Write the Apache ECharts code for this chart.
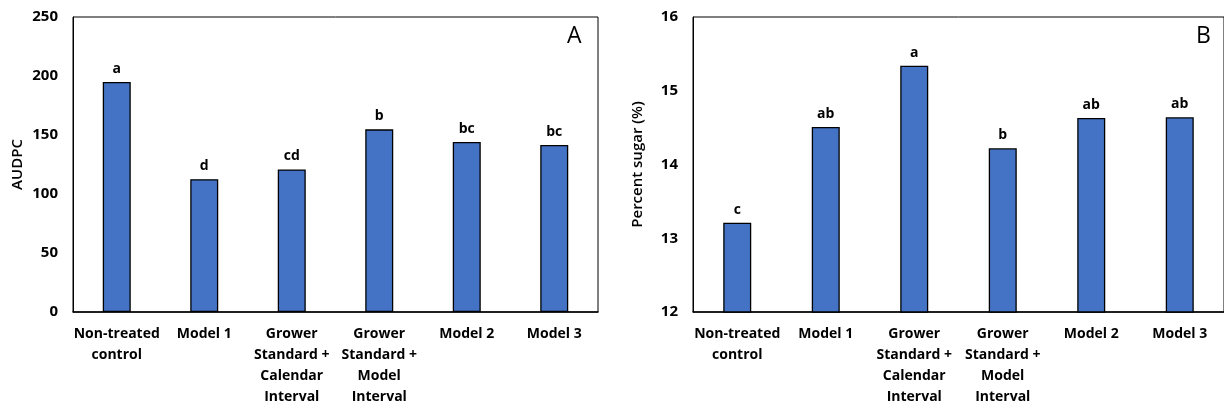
<!DOCTYPE html>
<html>
<head>
<meta charset="utf-8">
<script src="https://cdn.jsdelivr.net/npm/echarts@6/dist/echarts.min.js"></script>
<style>html,body{margin:0;padding:0;background:#fff;}#c{width:1224px;height:408px;}</style>
</head>
<body>
<div id="c"></div>
<script>
const categories = ['Non-treated\ncontrol', 'Model 1', 'Grower\nStandard +\nCalendar\nInterval', 'Grower\nStandard +\nModel\nInterval', 'Model 2', 'Model 3'];
const audpcValues = [195, 112.6, 120.8, 154.8, 144.1, 141.6];
const audpcLetters = ['a', 'd', 'cd', 'b', 'bc', 'bc'];
const sugarValues = [13.21, 14.51, 15.34, 14.22, 14.63, 14.64];
const sugarLetters = ['c', 'ab', 'a', 'b', 'ab', 'ab'];
const audpcTicks = { min: 0, max: 250, interval: 50 };
const sugarTicks = { min: 12, max: 16, interval: 1 };

const FONT = '"Open Sans", Lato, sans-serif';
const BAR = '#4472C4';

function xAxis(gi) {
  return {
    type: 'category', gridIndex: gi, data: categories,
    axisLine: { lineStyle: { color: '#000', width: 1.5 } },
    axisTick: { show: false },
    axisLabel: { interval: 0, color: '#000', fontFamily: FONT, fontWeight: 'bold', fontSize: 14, lineHeight: 21, margin: 12 }
  };
}
function yAxis(gi, t, name) {
  return {
    type: 'value', gridIndex: gi, min: t.min, max: t.max, interval: t.interval,
    name: name, nameLocation: 'middle', nameGap: 48, nameRotate: 90,
    nameTextStyle: { color: '#000', fontFamily: FONT, fontSize: 15, fontWeight: 600 },
    axisLine: { show: true, lineStyle: { color: '#000', width: 1 } },
    axisTick: { show: false },
    splitLine: { show: false },
    axisLabel: { color: '#000', fontFamily: FONT, fontWeight: 'bold', fontSize: 15, margin: 15 }
  };
}
function barSeries(gi, vals, letters) {
  return {
    type: 'bar', xAxisIndex: gi, yAxisIndex: gi, data: vals, barWidth: 28,
    itemStyle: { color: BAR, borderColor: '#000', borderWidth: 1.3 },
    label: {
      show: true, position: 'top', distance: 6,
      formatter: p => letters[p.dataIndex],
      color: '#000', fontFamily: FONT, fontWeight: 'bold', fontSize: 14
    },
    animation: false
  };
}

const chart = echarts.init(document.getElementById('c'), null, { renderer: 'canvas' });
chart.setOption({
  animation: false,
  grid: [
    { left: 73, top: 17, width: 525, height: 296, show: true, borderColor: '#000', borderWidth: 1, backgroundColor: 'transparent' },
    { left: 693, top: 17, width: 534, height: 296, show: true, borderColor: '#000', borderWidth: 1, backgroundColor: 'transparent' }
  ],
  xAxis: [xAxis(0), xAxis(1)],
  yAxis: [yAxis(0, audpcTicks, 'AUDPC'), yAxis(1, sugarTicks, 'Percent sugar (%)')],
  series: [barSeries(0, audpcValues, audpcLetters), barSeries(1, sugarValues, sugarLetters)],
  graphic: [
    { type: 'text', left: 567, top: 25, style: { text: 'A', font: '23px ' + FONT, fill: '#000' } },
    { type: 'text', left: 1196, top: 25, style: { text: 'B', font: '23px ' + FONT, fill: '#000' } }
  ]
});
</script>
</body>
</html>
